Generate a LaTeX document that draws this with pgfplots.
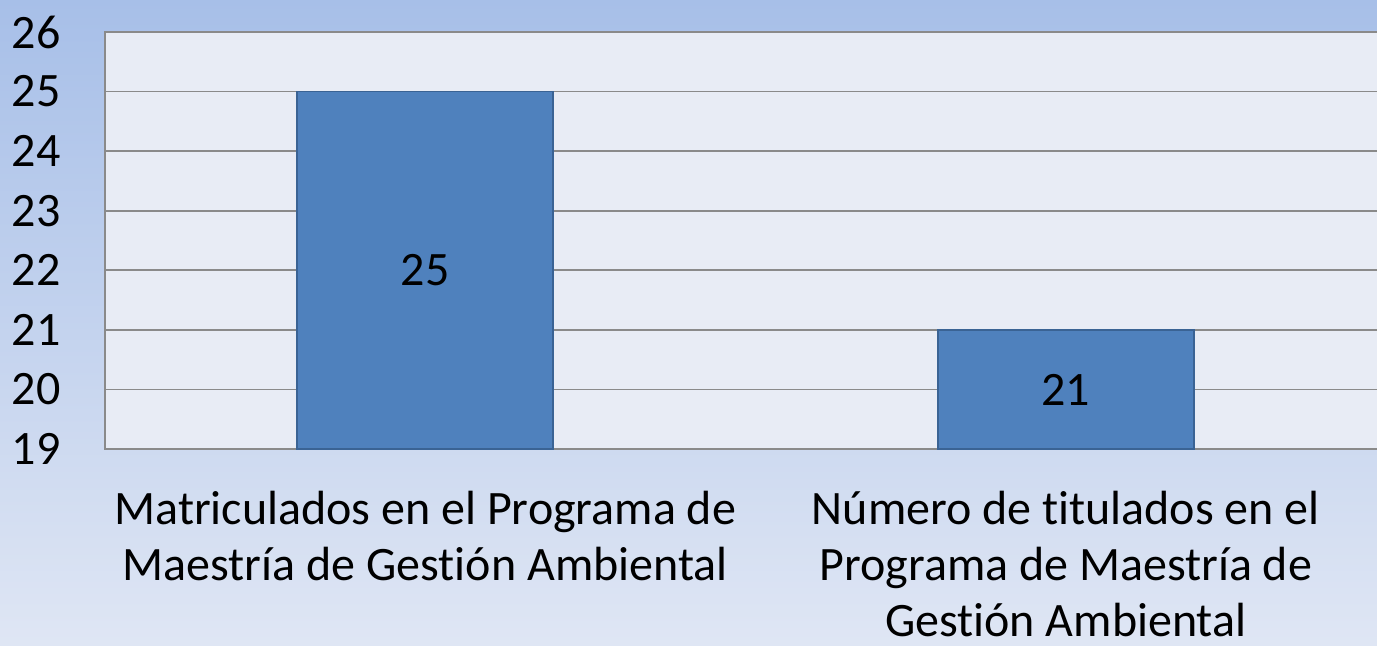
\documentclass[border=0pt]{standalone}
\usepackage{pgfplots}
\pgfplotsset{compat=1.18}
\usepackage{fontspec}
\setmainfont{Carlito}[Ligatures=NoCommon]
\definecolor{bgtop}{HTML}{A7BFE8}
\definecolor{bgbot}{HTML}{DFE6F4}
\definecolor{plotbg}{HTML}{E8ECF5}
\definecolor{gridc}{HTML}{8A8A8A}
\definecolor{barc}{HTML}{4F81BD}
\definecolor{bard}{HTML}{3A6394}
\begin{document}
\begin{tikzpicture}[x=1pt,y=1pt]
\shade[top color=bgtop,bottom color=bgbot] (0,0) rectangle (688.5,322.5);
\begin{axis}[
  at={(52.5pt,98pt)}, anchor=south west,
  width=640.5pt, height=208.5pt, scale only axis,
  xmin=-0.5, xmax=1.5, ymin=19, ymax=26,
  ytick={19,20,21,22,23,24,25,26},
  xtick={0,1},
  xticklabels={{Matriculados en el Programa de\\Maestría de Gestión Ambiental},{Número de titulados en el\\Programa de Maestría de\\Gestión Ambiental}},
  major tick length=0pt,
  /pgf/number format/assume math mode=true,
  ticklabel style={font=\fontsize{24}{28}\selectfont},
  yticklabel style={anchor=east, inner sep=0pt, xshift=-22pt},
  xticklabel style={align=center, anchor=north, inner sep=0pt, yshift=-21pt},
  ymajorgrids,
  grid style={gridc, line width=0.9pt},
  axis line style={gridc, line width=0.9pt},
  axis background/.style={fill=plotbg},
]
\addplot[ybar, bar width=128pt, fill=barc, draw=bard, line width=0.8pt] coordinates {(0,25) (1,21)};
\addplot[draw=none, mark=none, nodes near coords, point meta=explicit symbolic,
  every node near coord/.style={anchor=center, font=\fontsize{24}{28}\selectfont, text=black}]
  coordinates {(0,22) [25] (1,20) [21]};
\end{axis}
\pgfresetboundingbox
\useasboundingbox (0,0) rectangle (688.5,322.5);
\end{tikzpicture}
\end{document}
